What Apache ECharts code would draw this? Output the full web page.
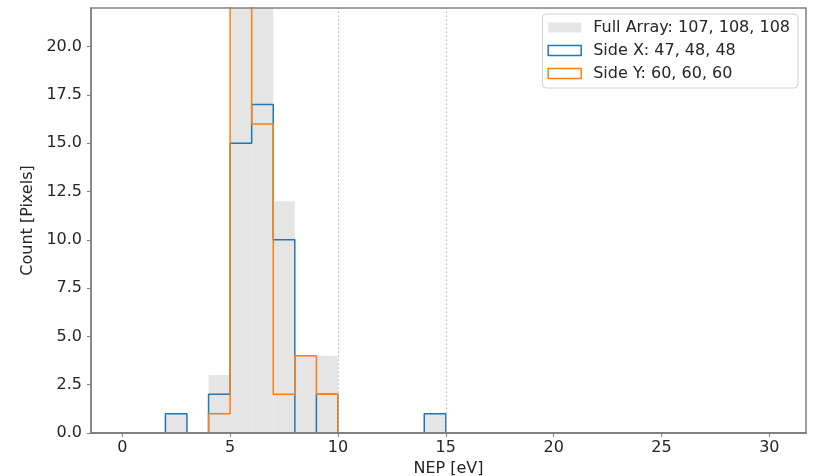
<!DOCTYPE html>
<html>
<head>
<meta charset="utf-8">
<script src="https://cdn.jsdelivr.net/npm/echarts@6/dist/echarts.min.js"></script>
<style>html,body{margin:0;padding:0;background:#fff}#c{width:820px;height:476px}</style>
</head>
<body>
<div id="c"></div>
<script>
// Histogram bin edges (width 1 eV), 0..30
const binEdges = [0,1,2,3,4,5,6,7,8,9,10,11,12,13,14,15,16,17,18,19,20,21,22,23,24,25,26,27,28,29,30];
// Counts per bin (bin i = [binEdges[i], binEdges[i+1]))
const fullArray = [0,0,1,0,3,50,33,12,4,4,0,0,0,0,1,0,0,0,0,0,0,0,0,0,0,0,0,0,0,0];
const sideX     = [0,0,1,0,2,15,17,10,0,2,0,0,0,0,1,0,0,0,0,0,0,0,0,0,0,0,0,0,0,0];
const sideY     = [0,0,0,0,1,35,16,2,4,2,0,0,0,0,0,0,0,0,0,0,0,0,0,0,0,0,0,0,0,0];
const seriesNames = ['Full Array: 107, 108, 108', 'Side X: 47, 48, 48', 'Side Y: 60, 60, 60'];
const refLines = [10, 15];
const xTicks = [0,5,10,15,20,25,30];
const yTicks = [0,2.5,5,7.5,10,12.5,15,17.5,20];

const FONT = 'DejaVu Sans';
const AX = '#808080';
const TXT = '#262626';

const barData = fullArray.map((c, i) => [binEdges[i], binEdges[i + 1], c]);
function stepPoints(counts) {
  const pts = [[binEdges[0], 0]];
  counts.forEach((c, i) => { pts.push([binEdges[i], c]); pts.push([binEdges[i + 1], c]); });
  pts.push([binEdges[binEdges.length - 1], 0]);
  return pts;
}

const chart = echarts.init(document.getElementById('c'), null, {renderer: 'canvas'});
chart.setOption({
  animation: false,
  backgroundColor: '#fff',
  textStyle: {fontFamily: FONT},
  grid: {left: 91, right: 14, top: 8, bottom: 43, containLabel: false, outerBoundsMode: 'none',
    show: true, borderColor: AX, borderWidth: 1.5, backgroundColor: 'transparent', z: 10},
  xAxis: {
    type: 'value', min: -1.45, max: 31.7, z: 10,
    name: 'NEP [eV]', nameLocation: 'middle', nameGap: 23,
    nameTextStyle: {fontFamily: FONT, fontSize: 16, color: TXT},
    axisLine: {show: true, onZero: false, lineStyle: {color: AX, width: 1.8}},
    axisTick: {show: true, length: 4, inside: false, customValues: xTicks, lineStyle: {color: AX}},
    axisLabel: {customValues: xTicks, fontFamily: FONT, fontSize: 16, color: TXT, margin: 7},
    splitLine: {show: false}
  },
  yAxis: {
    type: 'value', min: 0, max: 22, z: 10,
    name: 'Count [Pixels]', nameLocation: 'middle', nameGap: 48,
    nameTextStyle: {fontFamily: FONT, fontSize: 16, color: TXT},
    axisLine: {show: true, onZero: false, lineStyle: {color: AX, width: 1.5}},
    axisTick: {show: true, length: 4, customValues: yTicks, lineStyle: {color: AX}},
    axisLabel: {customValues: yTicks, fontFamily: FONT, fontSize: 16, color: TXT, margin: 9,
      formatter: v => Number(v).toFixed(1)},
    splitLine: {show: false}
  },
  legend: {
    orient: 'vertical', right: 22, top: 14, z: 20,
    backgroundColor: '#fff', borderColor: '#d0d0d0', borderWidth: 1, borderRadius: 4,
    padding: [4, 8, 5, 5],
    itemWidth: 33, itemHeight: 10, itemGap: 4,
    textStyle: {fontFamily: FONT, fontSize: 16, color: TXT, lineHeight: 19, padding: [0, 0, 0, 7]},
    data: [
      {name: seriesNames[0], icon: 'rect', itemStyle: {color: '#e5e5e5', borderWidth: 0}},
      {name: seriesNames[1], icon: 'rect', itemStyle: {color: '#fff', borderColor: '#1f77b4', borderWidth: 1.5}},
      {name: seriesNames[2], icon: 'rect', itemStyle: {color: '#fff', borderColor: '#ff7f0e', borderWidth: 1.5}}
    ]
  },
  series: [
    {
      name: seriesNames[0], type: 'custom', z: 1,
      itemStyle: {color: '#e5e5e5'},
      encode: {x: [0, 1], y: 2},
      data: barData,
      renderItem: function (params, api) {
        const p0 = api.coord([api.value(0), api.value(2)]);
        const p1 = api.coord([api.value(1), 0]);
        const rect = echarts.graphic.clipRectByRect(
          {x: p0[0], y: p0[1], width: p1[0] - p0[0], height: p1[1] - p0[1]},
          {x: params.coordSys.x, y: params.coordSys.y, width: params.coordSys.width, height: params.coordSys.height});
        return rect && {type: 'rect', shape: rect, style: {fill: '#e5e5e5'}};
      }
    },
    {
      name: seriesNames[1], type: 'line', z: 3, data: stepPoints(sideX),
      showSymbol: false, symbol: 'none', clip: true,
      color: '#1f77b4', lineStyle: {color: '#1f77b4', width: 1.5}
    },
    {
      name: seriesNames[2], type: 'line', z: 4, data: stepPoints(sideY),
      showSymbol: false, symbol: 'none', clip: true,
      color: '#ff7f0e', lineStyle: {color: '#ff7f0e', width: 1.5},
      markLine: {
        silent: true, symbol: 'none', label: {show: false},
        lineStyle: {color: '#b8b8b8', type: [1.5, 2.5], width: 1},
        data: refLines.map(v => ({xAxis: v}))
      }
    }
  ]
});
</script>
</body>
</html>
